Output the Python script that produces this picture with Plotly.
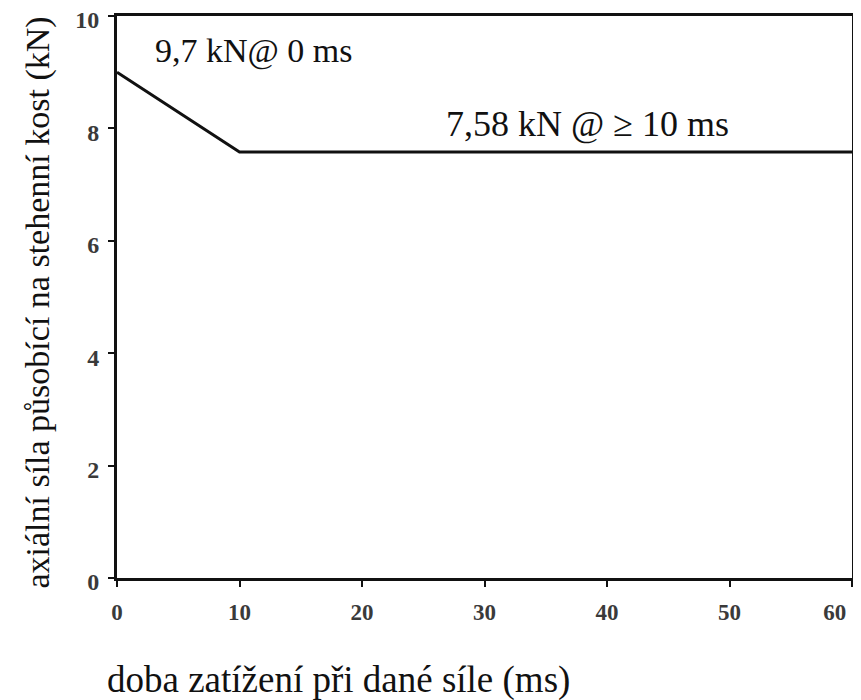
import plotly.graph_objects as go

time_ms = [0, 10, 60]
force_kN = [9.0, 7.58, 7.58]
x_ticks = [0, 10, 20, 30, 40, 50, 60]
x_tick_labels = ["0", "10", "20", "30", "40", "50", "60\u00a0\u00a0\u00a0\u00a0\u00a0\u00a0"]
y_ticks = [0, 2, 4, 6, 8, 10]
label_peak = "9,7 kN@ 0 ms"
label_plateau = "7,58 kN @ ≥ 10 ms"
x_title = "doba zatížení při dané síle (ms)"
y_title = "axiální síla působící na stehenní kost (kN)"

serif = "Liberation Serif"
ink = "#111111"

fig = go.Figure()
fig.add_trace(go.Scatter(x=time_ms, y=force_kN, mode="lines",
                         line=dict(color=ink, width=3), showlegend=False))

fig.add_annotation(x=11.2, y=9.38, text=label_peak, showarrow=False, xanchor="center",
                   font=dict(family=serif, size=34, color=ink))
fig.add_annotation(x=38.4, y=8.08, text=label_plateau, showarrow=False, xanchor="center",
                   font=dict(family=serif, size=36, color=ink))
fig.add_annotation(x=0.302, y=0, xref="paper", yref="paper", yshift=-102,
                   text=x_title, showarrow=False, xanchor="center", yanchor="middle",
                   font=dict(family=serif, size=37, color=ink))
fig.add_annotation(x=0, y=0.49, xref="paper", yref="paper", xshift=-79,
                   text=y_title, showarrow=False, textangle=-90, xanchor="center",
                   font=dict(family=serif, size=34, color=ink))

fig.update_xaxes(range=[0, 60], tickvals=x_ticks, ticktext=x_tick_labels,
                 showgrid=False, zeroline=False,
                 showline=True, linecolor=ink, linewidth=3, mirror=True,
                 ticks="outside", ticklen=6, tickwidth=2, tickcolor=ink,
                 ticklabelstandoff=5,
                 ticklabeloverflow="allow", automargin=False,
                 tickfont=dict(family=serif, size=23, color="#3a3a3a", weight="bold"))
fig.update_yaxes(range=[0, 10], tickvals=y_ticks, showgrid=False, zeroline=False,
                 showline=True, linecolor=ink, linewidth=3, mirror=True,
                 ticks="outside", ticklen=6, tickwidth=2, tickcolor=ink,
                 ticklabelstandoff=4, ticklabelshift=4,
                 ticklabeloverflow="allow", automargin=False,
                 tickfont=dict(family=serif, size=24, color="#3a3a3a", weight="bold"))

# the page body adds an 8px offset, so the figure is sized/margined to compensate
fig.update_layout(width=853, height=692, plot_bgcolor="white", paper_bgcolor="white",
                  margin=dict(l=109, r=9, t=8, b=122))

fig.write_html("out.html")
